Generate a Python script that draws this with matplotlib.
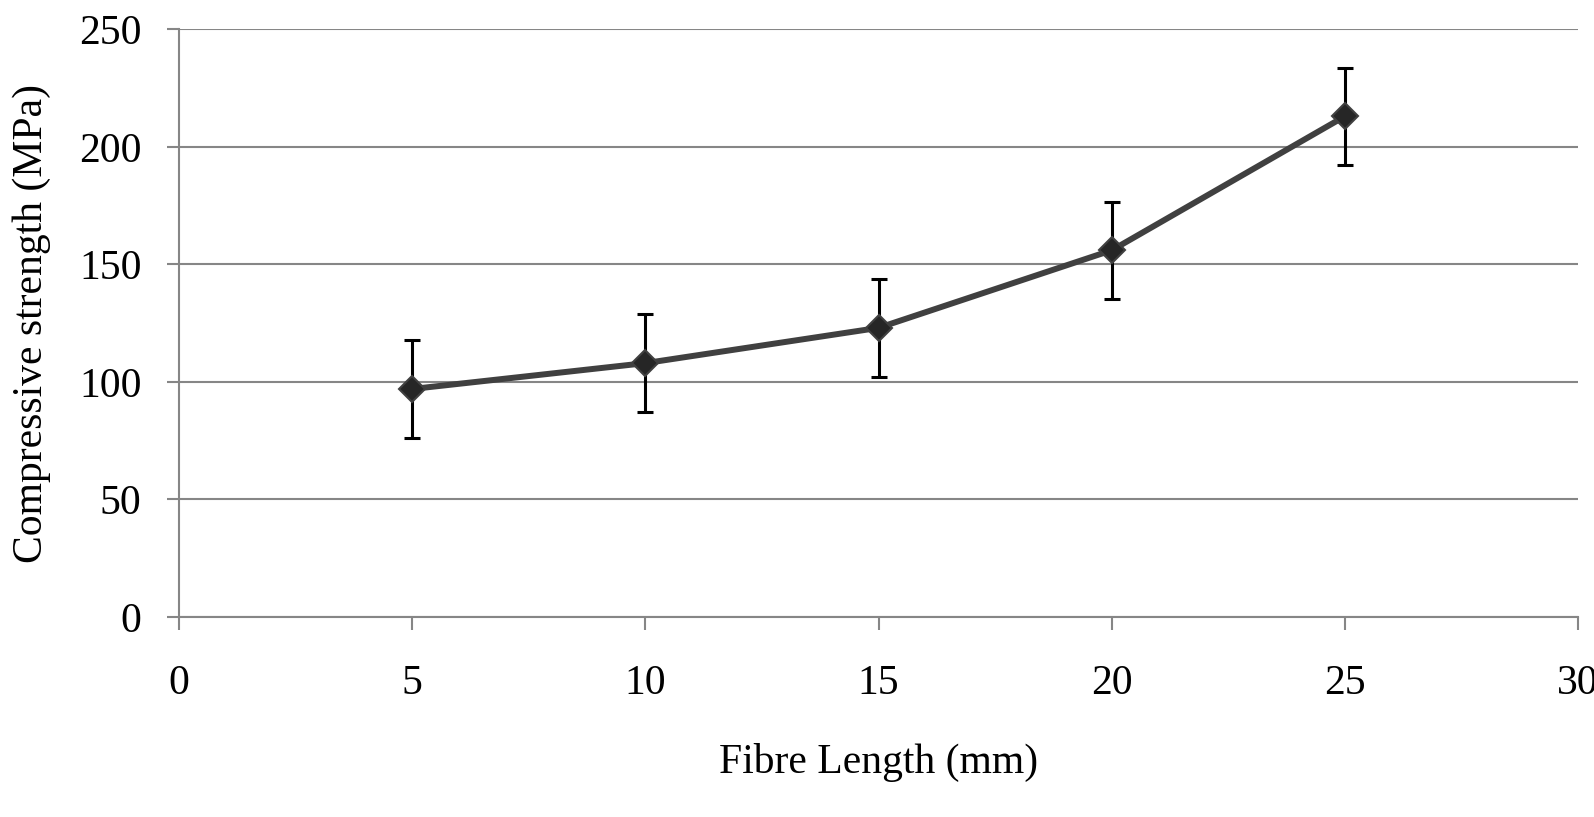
import matplotlib.pyplot as plt
import numpy as np

# fibre length (mm) vs compressive strength (MPa)
fibre_len = [5, 10, 15, 20, 25]
strength = [97, 108, 123, 156, 213]
err = [21, 21, 21, 20.7, 20.7]

plt.rcParams['font.family'] = ['Liberation Serif', 'DejaVu Serif']

fig = plt.figure(figsize=(15.94, 8.17), dpi=100)
ax = fig.add_axes([0.1123, 0.2448, 0.8777, 0.7193])

gray = '#868686'

ax.errorbar(fibre_len, strength, yerr=err, fmt='none', ecolor='black',
            elinewidth=2.2, capsize=6, capthick=2.2, zorder=3)
ax.plot(fibre_len, strength, color='#404040', lw=4.3, marker='D',
        markersize=13.5, markerfacecolor='#262626', markeredgecolor='#404040',
        markeredgewidth=1.5, zorder=4)

ax.set_xlim(0, 30)
ax.set_ylim(0, 250)
ax.set_xticks(np.arange(0, 31, 5))
ax.set_yticks(np.arange(0, 251, 50))

ax.yaxis.grid(True, color=gray, lw=1.5)
ax.set_axisbelow(True)
for s in ['top', 'right']:
    ax.spines[s].set_visible(False)
for s in ['left', 'bottom']:
    ax.spines[s].set_color(gray)
    ax.spines[s].set_linewidth(1.5)

ax.tick_params(axis='both', direction='out', length=9, width=1.5,
               color=gray, labelsize=30)
ax.tick_params(axis='y', pad=18)
ax.tick_params(axis='x', pad=25)

ax.set_xlabel('Fibre Length (mm)', fontsize=30)
ax.set_ylabel('Compressive strength (MPa)', fontsize=30)
ax.xaxis.set_label_coords(0.5, -0.215)
ax.yaxis.set_label_coords(-0.0915, 0.5)

fig.savefig('out.png', dpi=100)
